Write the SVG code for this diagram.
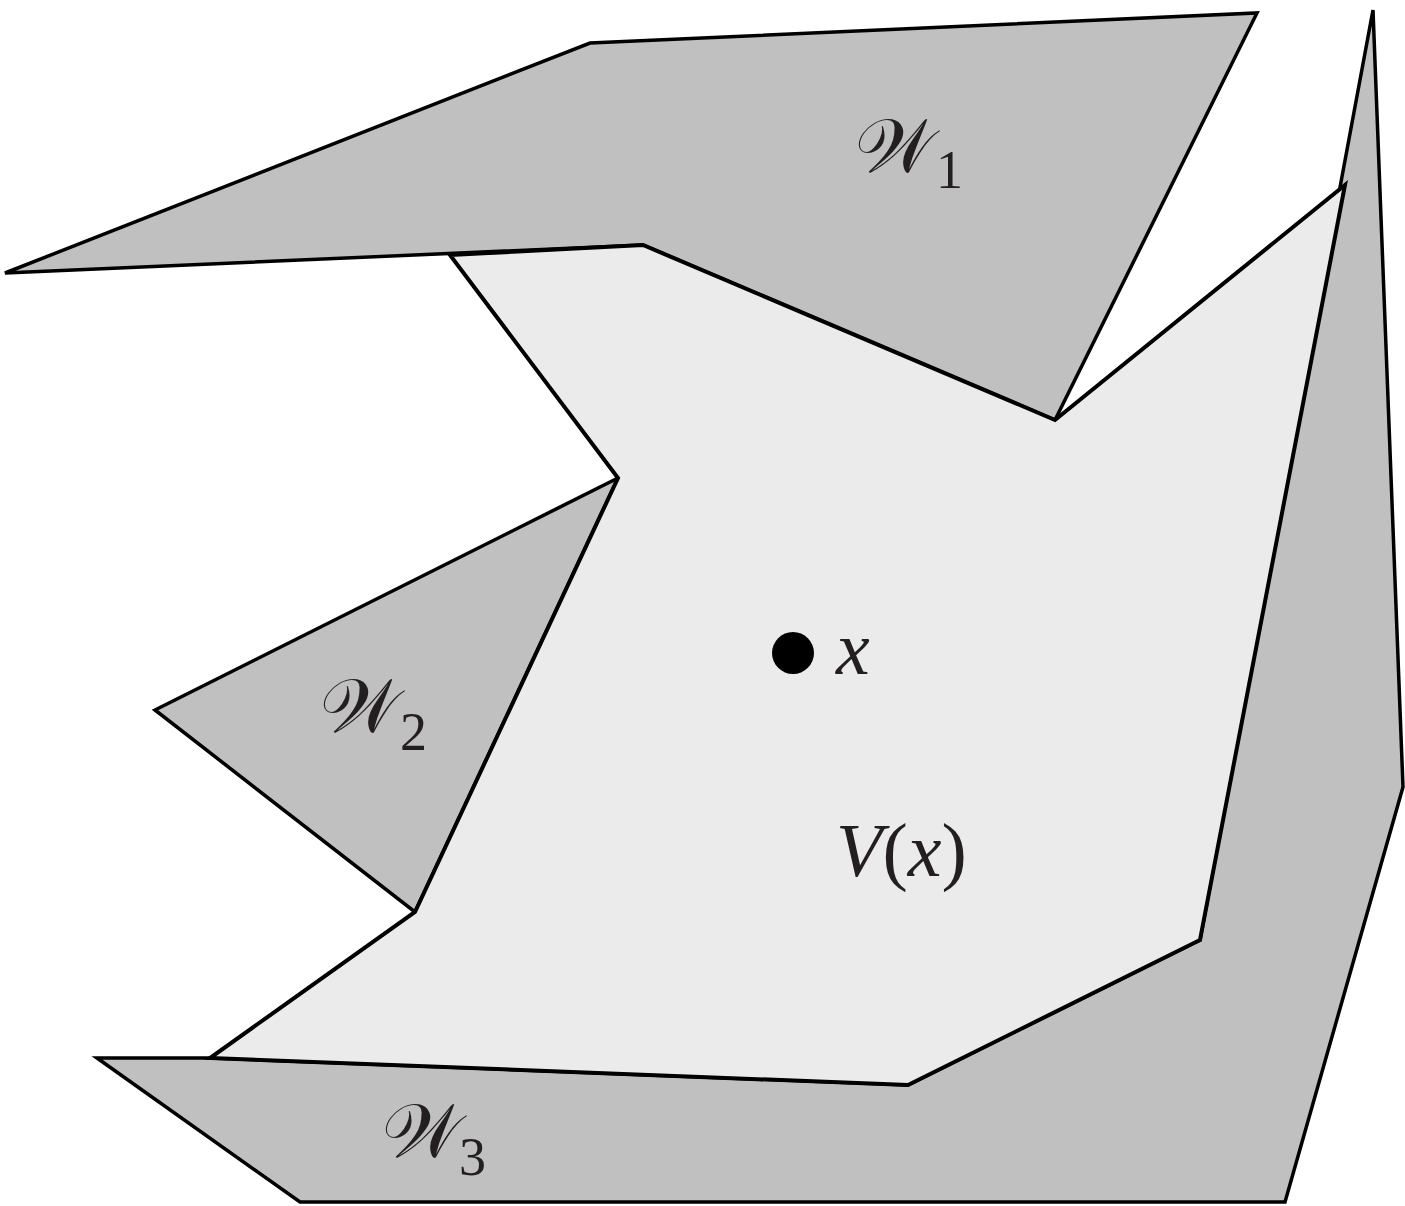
<svg xmlns="http://www.w3.org/2000/svg" width="1405" height="1206" viewBox="0 0 1405 1206">
<style>
.wall{fill:#c0c0c0;stroke:#000;stroke-width:3.5;stroke-linejoin:miter}
.vis{fill:#ebebeb;stroke:#000;stroke-width:4;stroke-linejoin:miter}
</style>
<rect width="1405" height="1206" fill="#fff"/>
<g id="W1">
<polygon class="wall" points="5,273 590,43 1257,13 1055,420 643,245"/>
</g>
<g id="W3">
<polygon class="wall" points="97,1058 300,1202 1285,1202 1403,787 1373,10 1200,940 908,1085 210,1058"/>
</g>
<g id="W2">
<polygon class="wall" points="155,710 618,478 415,912"/>
</g>
<g id="V">
<polygon class="vis" points="450,255 643,245 1055,420 1345,185 1200,940 908,1085 210,1058 415,912 618,478"/>
</g>
<g id="point">
<circle cx="793" cy="653" r="21" fill="#000"/>
</g>
<g id="labels" fill="#231f20">
<text x="855" y="172" font-size="76" font-family="DejaVu Serif">𝒲</text><text x="936" y="188" font-size="54" font-family="Liberation Serif">1</text>
<text x="320" y="732" font-size="76" font-family="DejaVu Serif">𝒲</text><text x="400" y="750" font-size="54" font-family="Liberation Serif">2</text>
<text x="382" y="1157" font-size="76" font-family="DejaVu Serif">𝒲</text><text x="459" y="1175" font-size="54" font-family="Liberation Serif">3</text>
<text x="836" y="674" font-size="76" font-family="Liberation Serif" font-style="italic">x</text>
<text x="836" y="876" font-size="76" font-family="Liberation Serif"><tspan font-style="italic">V</tspan>(<tspan font-style="italic">x</tspan>)</text>
</g>
</svg>
